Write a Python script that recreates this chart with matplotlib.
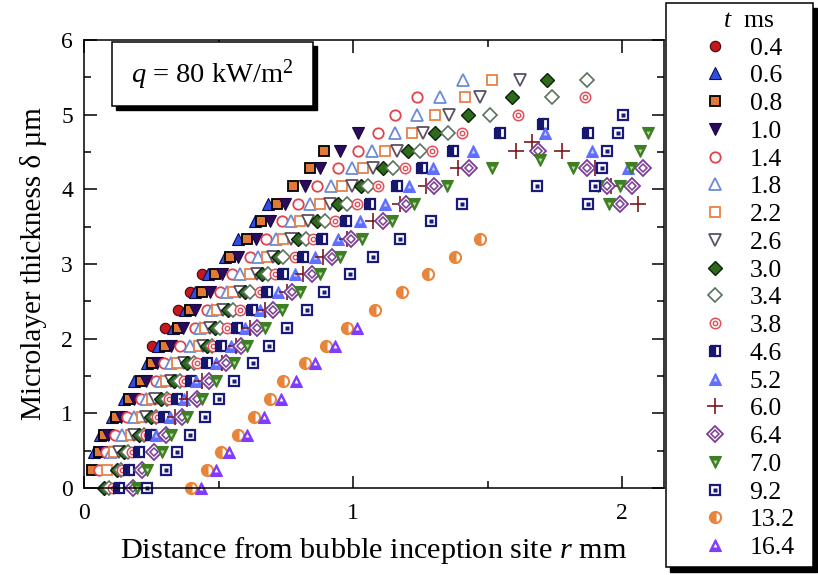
import matplotlib.pyplot as plt
from matplotlib.lines import Line2D
from matplotlib.patches import Rectangle

plt.rcParams["font.family"] = "Liberation Serif"
plt.rcParams["mathtext.fontset"] = "custom"
plt.rcParams["mathtext.rm"] = "Liberation Serif"
plt.rcParams["mathtext.it"] = "Liberation Serif:italic"

# ---------------------------------
# Data: microlayer thickness at interference fringes (um)
# ---------------------------------

FRINGE = [0.00, 0.24, 0.48, 0.71, 0.95, 1.19, 1.43, 1.67, 1.90, 2.14, 2.38, 2.62,
          2.86, 3.09, 3.33, 3.57, 3.81, 4.05, 4.28, 4.52, 4.76, 5.00, 5.24, 5.47]

times = ["0.4", "0.6", "0.8", "1.0", "1.4", "1.8", "2.2", "2.6", "3.0", "3.4",
         "3.8", "4.6", "5.2", "6.0", "6.4", "7.0", "9.2", "13.2", "16.4"]

r_04 = [0.253, 0.301, 0.349, 0.394, 0.439]
d_04 = FRINGE[8:13]

r_06 = [0.037, 0.059, 0.104, 0.149, 0.186, 0.234, 0.275, 0.331, 0.375, 0.413,
        0.461, 0.524, 0.572, 0.636, 0.684]
d_06 = FRINGE[2:17]

r_08 = [0.030, 0.056, 0.074, 0.119, 0.167, 0.212, 0.253, 0.301, 0.349, 0.394,
        0.439, 0.487, 0.543, 0.606, 0.658, 0.717, 0.777, 0.840, 0.892]
d_08 = FRINGE[1:20]

r_10 = [0.074, 0.089, 0.138, 0.186, 0.230, 0.271, 0.323, 0.368, 0.413, 0.468,
        0.513, 0.572, 0.639, 0.691, 0.747, 0.822, 0.877, 0.952, 1.019]
d_10 = FRINGE[2:21]

r_14 = [0.056, 0.082, 0.115, 0.160, 0.212, 0.268, 0.297, 0.357, 0.413, 0.457,
        0.506, 0.550, 0.617, 0.677, 0.736, 0.796, 0.866, 0.944, 1.019, 1.093,
        1.156, 1.238]
d_14 = FRINGE[1:23]

r_18 = [0.100, 0.141, 0.186, 0.230, 0.286, 0.323, 0.394, 0.431, 0.476, 0.532,
        0.580, 0.647, 0.714, 0.770, 0.840, 0.918, 0.996, 1.071, 1.156, 1.238,
        1.323, 1.409]
d_18 = FRINGE[2:24]

r_22 = [0.086, 0.112, 0.175, 0.216, 0.253, 0.305, 0.346, 0.428, 0.450, 0.494,
        0.554, 0.617, 0.680, 0.740, 0.803, 0.877, 0.959, 1.037, 1.119, 1.219,
        1.305, 1.416, 1.517]
d_22 = FRINGE[1:24]

r_26 = [0.130, 0.186, 0.230, 0.264, 0.323, 0.372, 0.442, 0.468, 0.517, 0.580,
        0.643, 0.703, 0.770, 0.833, 0.914, 0.996, 1.074, 1.164, 1.260, 1.357,
        1.472, 1.621]
d_26 = FRINGE[2:24]

r_30 = [0.074, 0.123, 0.149, 0.204, 0.249, 0.286, 0.335, 0.383, 0.457, 0.487,
        0.535, 0.599, 0.662, 0.721, 0.796, 0.866, 0.944, 1.030, 1.112, 1.204,
        1.305, 1.428, 1.591, 1.721]
d_30 = FRINGE[0:24]

r_34 = [0.093, 0.138, 0.164, 0.223, 0.268, 0.309, 0.357, 0.409, 0.476, 0.506,
        0.554, 0.617, 0.684, 0.740, 0.825, 0.896, 0.978, 1.056, 1.149, 1.249,
        1.353, 1.509, 1.740, 1.870]
d_34 = FRINGE[0:24]

r_38 = [0.108, 0.141, 0.178, 0.230, 0.271, 0.316, 0.372, 0.420, 0.480, 0.532,
        0.580, 0.654, 0.710, 0.784, 0.851, 0.933, 1.015, 1.093, 1.193, 1.294,
        1.405, 1.613, 1.862]
d_38 = FRINGE[0:23]

r_46 = [0.130, 0.167, 0.204, 0.249, 0.297, 0.346, 0.398, 0.457, 0.509, 0.569,
        0.625, 0.680, 0.740, 0.814, 0.885, 0.974, 1.063, 1.164, 1.257, 1.372,
        1.546, 1.706, 1.874]
d_46 = FRINGE[0:21] + [4.88, 4.76]

r_52 = [0.268, 0.320, 0.372, 0.416, 0.491, 0.546, 0.599, 0.654, 0.721, 0.784,
        0.859, 0.944, 1.026, 1.119, 1.208, 1.297, 1.446, 1.714, 1.888, 2.022]
d_52 = FRINGE[3:21] + [4.52, 4.28]

r_60 = [0.338, 0.383, 0.439, 0.513, 0.565, 0.617, 0.673, 0.755, 0.814, 0.888,
        0.978, 1.074, 1.175, 1.271, 1.390, 1.606, 1.665, 1.777, 1.900, 1.959,
        2.059]
d_60 = FRINGE[4:20] + [4.64, 4.52, 4.28, 4.05, 3.81]

r_64 = [0.182, 0.216, 0.260, 0.305, 0.364, 0.420, 0.465, 0.528, 0.584, 0.643,
        0.703, 0.773, 0.848, 0.922, 0.993, 1.112, 1.197, 1.301, 1.431, 1.688,
        1.870, 1.944, 1.993, 2.037, 2.078]
d_64 = FRINGE[0:20] + [4.28, 4.05, 3.81, 4.05, 4.28]

r_70 = [0.197, 0.234, 0.290, 0.323, 0.383, 0.439, 0.491, 0.558, 0.606, 0.673,
        0.736, 0.803, 0.877, 0.952, 1.033, 1.145, 1.227, 1.349, 1.517, 1.695,
        1.818, 1.911, 1.952, 1.993, 2.033, 2.067, 2.097]
d_70 = FRINGE[0:19] + [4.39, 4.28, 4.05, 3.81, 4.05, 4.28, 4.52, 4.76]

r_92 = [0.234, 0.305, 0.346, 0.394, 0.450, 0.502, 0.558, 0.628, 0.688, 0.755,
        0.829, 0.892, 0.989, 1.074, 1.175, 1.290, 1.405, 1.684, 1.926, 1.944,
        1.985, 2.004, 1.874, 1.900]
d_92 = FRINGE[0:22] + [3.81, 4.05]

r_132 = [0.398, 0.457, 0.509, 0.572, 0.632, 0.691, 0.740, 0.822, 0.900, 0.978,
         1.082, 1.182, 1.279, 1.379, 1.472]
d_132 = FRINGE[0:15]

r_164 = [0.435, 0.491, 0.539, 0.606, 0.669, 0.732, 0.788, 0.859, 0.933, 1.015]
d_164 = FRINGE[0:10]

series_r = [r_04, r_06, r_08, r_10, r_14, r_18, r_22, r_26, r_30, r_34,
            r_38, r_46, r_52, r_60, r_64, r_70, r_92, r_132, r_164]
series_d = [d_04, d_06, d_08, d_10, d_14, d_18, d_22, d_26, d_30, d_34,
            d_38, d_46, d_52, d_60, d_64, d_70, d_92, d_132, d_164]

# ---------------------------------
# Marker styles (layers drawn on top of each other)
# ---------------------------------

styles = [
    [dict(marker="o", ms=7.5, mfc="#c8161d", mec="#3b0a0a", mew=0.8)],
    [dict(marker="^", ms=8, mfc="#2f4fe0", mec="#0c0c50", mew=0.8)],
    [dict(marker="s", ms=7, mfc="#e07a36", mec="black", mew=1.3)],
    [dict(marker="v", ms=8.5, mfc="#2a0b5c", mec="#1a0640", mew=0.8)],
    [dict(marker="o", ms=7.5, mfc="white", mec="#e0444c", mew=1.3)],
    [dict(marker="^", ms=8, mfc="white", mec="#6d8ad6", mew=1.3)],
    [dict(marker="s", ms=7.5, mfc="white", mec="#e8814a", mew=1.3)],
    [dict(marker="v", ms=8, mfc="white", mec="#5a5262", mew=1.3)],
    [dict(marker="D", ms=7.5, mfc="#2d6a1b", mec="#0d200a", mew=1.0)],
    [dict(marker="D", ms=7.5, mfc="white", mec="#58745a", mew=1.2)],
    [dict(marker="o", ms=7.5, mfc="white", mec="#e0505a", mew=1.1),
     dict(marker="o", ms=3.2, mfc="none", mec="#e0505a", mew=1.0)],
    [dict(marker="s", ms=7, mfc="#16166e", mec="#16166e", mew=1.6,
          fillstyle="left", mfcalt="white")],
    [dict(marker="^", ms=8.5, mfc="#5f6fff", mec="#5f6fff", mew=0.8),
     dict(marker="^", ms=2.8, mfc="#c8ceff", mec="none")],
    [dict(marker="+", ms=11, mec="#7a1a1a", mew=1.2)],
    [dict(marker="D", ms=8.5, mfc="white", mec="#7b3d97", mew=1.3),
     dict(marker="D", ms=4, mfc="none", mec="#7b3d97", mew=1.1)],
    [dict(marker="v", ms=9, mfc="#3f7f24", mec="#3f7f24", mew=0.8),
     dict(marker="v", ms=2.8, mfc="#b8dca8", mec="none")],
    [dict(marker="s", ms=7.5, mfc="white", mec="#1a1a7c", mew=1.6),
     dict(marker="s", ms=2.6, mfc="#1a1a7c", mec="none")],
    [dict(marker="o", ms=8, mfc="#e8853a", mec="#e8853a", mew=1.5,
          fillstyle="left", mfcalt="white")],
    [dict(marker="^", ms=8.5, mfc="#7d3cff", mec="#7d3cff", mew=0.8),
     dict(marker="^", ms=2.8, mfc="white", mec="none")],
]

# ---------------------------------
# Figure
# ---------------------------------

W, H = 818, 575
fig = plt.figure(figsize=(W / 100, H / 100), dpi=100)
ax = fig.add_axes([84 / W, 1 - 488 / H, 580 / W, 448 / H])

handles = []
for r, d, layers in zip(series_r, series_d, styles):
    parts = []
    for layer in layers:
        ax.plot(r, d, linestyle="none", clip_on=False, **layer)
        parts.append(Line2D([], [], linestyle="none", **layer))
    handles.append(tuple(parts))

ax.set_xlim(0, 2.156)
ax.set_ylim(0, 6)
ax.set_xticks([0, 1, 2])
ax.set_xticks([0.5, 1.5], minor=True)
ax.set_yticks(range(7))
ax.set_yticks([0.5, 1.5, 2.5, 3.5, 4.5, 5.5], minor=True)

ax.tick_params(which="both", direction="in", top=True, right=True,
               width=1.1, labelsize=17)
ax.tick_params(which="major", length=9)
ax.tick_params(which="minor", length=5)
ax.tick_params(axis="x", pad=11)
ax.tick_params(axis="y", pad=8)
for s in ax.spines.values():
    s.set_linewidth(1.1)

ax.set_xlabel("Distance from bubble inception site $r$ mm", fontsize=21.8,
              labelpad=8)
ax.set_ylabel("Microlayer thickness δ µm", fontsize=21, labelpad=10)

# heat flux box with drop shadow
bx0, by0, bw, bh = 0.048, 0.852, 0.347, 0.143
ax.add_patch(Rectangle((bx0 + 0.007, by0 - 0.009), bw, bh, transform=ax.transAxes,
                       facecolor="black", edgecolor="black", zorder=20))
ax.add_patch(Rectangle((bx0, by0), bw, bh, transform=ax.transAxes,
                       facecolor="white", edgecolor="black", lw=1.1, zorder=21))
ax.text(bx0 + bw / 2, by0 + bh / 2, "$q$ = 80 kW/m$^2$", transform=ax.transAxes,
        ha="center", va="center", fontsize=20.5, zorder=22)

# legend panel with drop shadow
lx0, ly0, lw, lh = 666 / W, 1 - 567 / H, 147 / W, 564 / H
fig.patches.append(Rectangle((lx0 + 4 / W, ly0 - 5 / H), lw, lh,
                             transform=fig.transFigure, facecolor="black",
                             edgecolor="black", zorder=5))
fig.patches.append(Rectangle((lx0, ly0), lw, lh, transform=fig.transFigure,
                             facecolor="white", edgecolor="black", lw=1.1,
                             zorder=6))

leg = fig.legend(handles, times, loc="upper left",
                 bbox_to_anchor=(702 / W, 1 - 10 / H), frameon=False,
                 title="$t$  ms", fontsize=18.5, title_fontsize=18.5,
                 handlelength=1.0, handletextpad=0.85, labelspacing=0.185,
                 borderpad=0, borderaxespad=0)
leg.set_zorder(10)

fig.savefig("out.png", dpi=100)
